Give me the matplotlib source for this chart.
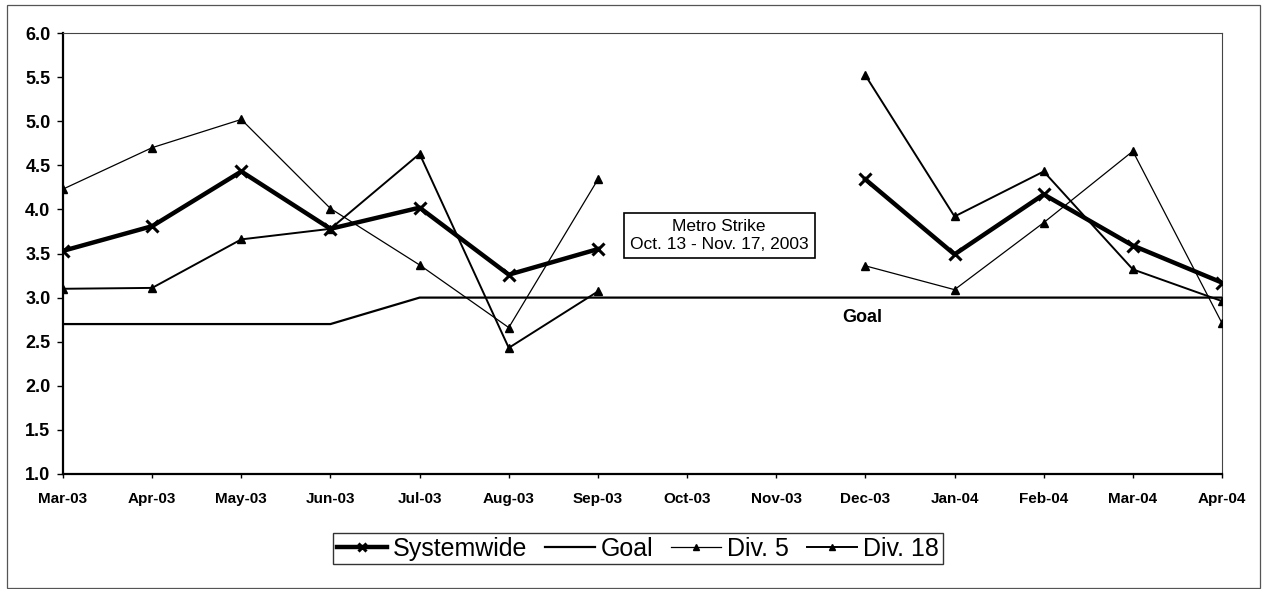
import numpy as np
import matplotlib
matplotlib.use("Agg")
import matplotlib.pyplot as plt
from matplotlib.patches import Rectangle

plt.rcParams['font.family'] = ['Liberation Sans', 'DejaVu Sans']

months = ["Mar-03", "Apr-03", "May-03", "Jun-03", "Jul-03", "Aug-03", "Sep-03",
          "Oct-03", "Nov-03", "Dec-03", "Jan-04", "Feb-04", "Mar-04", "Apr-04"]

nan = np.nan
systemwide = [3.53, 3.81, 4.43, 3.78, 4.02, 3.26, 3.55, nan, nan, 4.34, 3.49, 4.17, 3.59, 3.17]
goal = [2.7, 2.7, 2.7, 2.7, 3.0, 3.0, 3.0, 3.0, 3.0, 3.0, 3.0, 3.0, 3.0, 3.0]
div5 = [4.23, 4.70, 5.02, 4.01, 3.37, 2.66, 4.34, nan, nan, 3.36, 3.09, 3.85, 4.66, 2.71]
div18 = [3.10, 3.11, 3.66, 3.78, 4.63, 2.43, 3.07, nan, nan, 5.52, 3.92, 4.43, 3.32, 2.96]

x = np.arange(len(months))

fig = plt.figure(figsize=(12.62, 5.89), dpi=100)
ax = fig.add_axes([63 / 1262, 1 - 474 / 589, (1222 - 63) / 1262, (474 - 33) / 589])

ax.plot(x, systemwide, color='black', lw=3.2, marker='x', ms=8, mew=2.2,
        label='Systemwide', zorder=4)
ax.plot(x, goal, color='black', lw=1.6, label='Goal', zorder=3)
ax.plot(x, div5, color='black', lw=0.9, marker='^', ms=6, label='Div. 5', zorder=3)
ax.plot(x, div18, color='black', lw=1.4, marker='^', ms=6, label='Div. 18', zorder=3)

ax.set_xlim(0, len(months) - 1)
ax.set_ylim(1.0, 6.0)
yt = np.arange(1.0, 6.01, 0.5)
ax.set_yticks(yt)
ax.set_yticklabels([f"{v:.1f}" for v in yt], fontsize=13, fontweight='bold')
ax.set_xticks(x)
ax.set_xticklabels(months, fontsize=11, fontweight='bold')
ax.tick_params(axis='y', direction='out', length=4, width=1, pad=5)
ax.tick_params(axis='x', direction='out', length=3, width=1, pad=10)

for side in ['left', 'bottom']:
    ax.spines[side].set_linewidth(1.6)
for side in ['top', 'right']:
    ax.spines[side].set_linewidth(0.8)
    ax.spines[side].set_color('#444444')

ax.text(7.36, 3.70, "Metro Strike\nOct. 13 - Nov. 17, 2003", ha='center', va='center',
        fontsize=12.5, linespacing=1.25,
        bbox=dict(boxstyle='square,pad=0.35', fc='white', ec='black', lw=1.2))
ax.text(8.96, 2.78, "Goal", ha='center', va='center', fontsize=13, fontweight='bold')

leg = ax.legend(loc='center', bbox_to_anchor=(0.496, -0.169), ncol=4, frameon=True,
                fancybox=False, edgecolor='black', fontsize=18, handlelength=2.0,
                handletextpad=0.25, columnspacing=0.7, borderpad=0.15, markerscale=0.7)
leg.get_frame().set_linewidth(1.0)

fig.patches.append(Rectangle((7 / 1262, 1 / 589), 1253 / 1262, 583 / 589,
                             transform=fig.transFigure, fill=False, ec='#555555', lw=0.9))

fig.savefig("out.png", dpi=100)
